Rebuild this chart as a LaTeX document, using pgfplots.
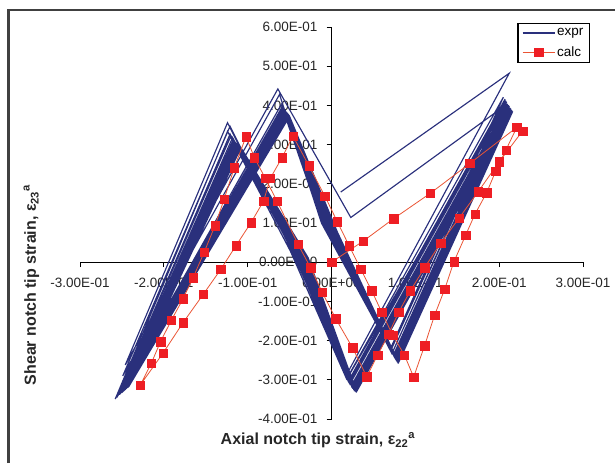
\documentclass[border=0pt]{standalone}
\usepackage{fontspec}
\setmainfont{Liberation Sans}
\usepackage{pgfplots}
\pgfplotsset{compat=1.18}
\definecolor{exprc}{RGB}{42,48,124}
\definecolor{calcl}{RGB}{234,84,52}
\definecolor{calcm}{RGB}{238,30,36}
\tikzset{
  xl/.style={anchor=center, inner sep=0pt, yshift=-21pt, font=\fontsize{13.5}{15}\selectfont, text=black!85},
  yl/.style={anchor=east, inner sep=0pt, xshift=-14pt, font=\fontsize{13.5}{15}\selectfont, text=black!85},
}
\begin{document}
\begin{tikzpicture}[x=1pt,y=1pt]
\useasboundingbox (0,0) rectangle (615,463);
\draw[line width=2.2pt, black!75] (8.5,0) -- (8.5,453) -- (615,453);
\begin{axis}[
  at={(80pt,44pt)}, anchor=south west,
  scale only axis, width=503pt, height=392pt,
  xmin=-0.3, xmax=0.3, ymin=-0.4, ymax=0.6,
  axis lines=middle, axis line style={-, line width=0.9pt},
  xtick={-0.3,-0.2,-0.1,0,0.1,0.2,0.3},
  xticklabels={,,,,,,},
  ytick={-0.4,-0.3,-0.2,-0.1,0,0.1,0.2,0.3,0.4,0.5,0.6},
  yticklabels={,,,,,,,,,,},
  tick align=outside, major tick length=5pt,
  tick style={black, line width=0.9pt},
  xlabel={Axial notch tip strain, ε\textsubscript{22}\textsuperscript{a}},
  ylabel={Shear notch tip strain, ε\textsubscript{23}\textsuperscript{a}},
  label style={font=\bfseries\fontsize{16}{18}\selectfont, text=black!85},
  xlabel style={at={(axis description cs:0.473,-0.0536)}, anchor=center},
  ylabel style={at={(axis description cs:-0.0964,0.342)}, anchor=center, rotate=90},
  clip=false,
  legend style={at={(axis description cs:1.0139,1.0102)}, anchor=north east,
    draw=black, line width=1.3pt, font=\fontsize{13.5}{15}\selectfont,
    inner xsep=4pt, inner ysep=3pt, row sep=5pt, cells={anchor=west}},
  legend image code/.code={\draw[mark repeat=2,mark phase=2,#1] plot coordinates {(0pt,0pt) (16pt,0pt) (32pt,0pt)};},
]
\node[xl] at (axis cs:-0.3,0) {-3.00E-01};
\node[xl] at (axis cs:-0.2,0) {-2.00E-01};
\node[xl] at (axis cs:-0.1,0) {-1.00E-01};
\node[xl] at (axis cs:0,0) {0.00E+00};
\node[xl] at (axis cs:0.1,0) {1.00E-01};
\node[xl] at (axis cs:0.2,0) {2.00E-01};
\node[xl] at (axis cs:0.3,0) {3.00E-01};
\node[yl] at (axis cs:0,-0.4) {-4.00E-01};
\node[yl] at (axis cs:0,-0.3) {-3.00E-01};
\node[yl] at (axis cs:0,-0.2) {-2.00E-01};
\node[yl] at (axis cs:0,-0.1) {-1.00E-01};
\node[yl] at (axis cs:0,0) {0.00E+00};
\node[yl] at (axis cs:0,0.1) {1.00E-01};
\node[yl] at (axis cs:0,0.2) {2.00E-01};
\node[yl] at (axis cs:0,0.3) {3.00E-01};
\node[yl] at (axis cs:0,0.4) {4.00E-01};
\node[yl] at (axis cs:0,0.5) {5.00E-01};
\node[yl] at (axis cs:0,0.6) {6.00E-01};
\addplot[exprc, line width=1.15pt, mark=none] coordinates {
(0.011,0.179) (0.212,0.482) (0.019,-0.283) (-0.050,0.040) (-0.124,0.356) (-0.246,-0.262) (-0.064,0.442)
(0.023,0.114) (0.206,0.398) (0.020,-0.292) (-0.048,0.034) (-0.121,0.347) (-0.249,-0.290) (-0.062,0.428) (-0.012,0.100) (0.070,-0.222)
(0.205,0.421) (0.018,-0.298) (-0.049,0.028) (-0.124,0.334) (-0.258,-0.349) (-0.060,0.402) (-0.010,0.092) (0.071,-0.224)
(0.207,0.416) (0.020,-0.304) (-0.046,0.026) (-0.121,0.327) (-0.256,-0.345) (-0.059,0.396) (-0.008,0.090) (0.073,-0.229)
(0.208,0.412) (0.021,-0.307) (-0.044,0.024) (-0.120,0.322) (-0.255,-0.341) (-0.058,0.393) (-0.006,0.089) (0.072,-0.233)
(0.209,0.409) (0.022,-0.311) (-0.042,0.022) (-0.118,0.318) (-0.253,-0.338) (-0.057,0.390) (-0.005,0.087) (0.074,-0.236)
(0.210,0.404) (0.024,-0.314) (-0.040,0.021) (-0.117,0.313) (-0.252,-0.336) (-0.056,0.388) (-0.003,0.086) (0.075,-0.240)
(0.211,0.401) (0.024,-0.317) (-0.038,0.020) (-0.116,0.310) (-0.250,-0.333) (-0.055,0.386) (-0.002,0.085) (0.075,-0.242)
(0.212,0.399) (0.025,-0.320) (-0.037,0.019) (-0.115,0.306) (-0.249,-0.331) (-0.055,0.384) (0.000,0.084) (0.076,-0.245)
(0.212,0.397) (0.026,-0.322) (-0.035,0.018) (-0.114,0.303) (-0.248,-0.329) (-0.054,0.382) (0.001,0.083) (0.077,-0.247)
(0.213,0.394) (0.027,-0.324) (-0.034,0.017) (-0.113,0.301) (-0.247,-0.327) (-0.053,0.380) (0.002,0.082) (0.077,-0.249)
(0.214,0.392) (0.027,-0.326) (-0.032,0.016) (-0.112,0.299) (-0.246,-0.325) (-0.053,0.378) (0.003,0.081) (0.078,-0.251)
(0.214,0.390) (0.028,-0.327) (-0.031,0.015) (-0.111,0.297) (-0.245,-0.323) (-0.052,0.377) (0.004,0.080) (0.078,-0.252)
(0.215,0.388) (0.029,-0.328) (-0.030,0.014) (-0.110,0.295) (-0.244,-0.321) (-0.051,0.375) (0.005,0.079) (0.079,-0.254)
(0.215,0.387) (0.029,-0.329) (-0.029,0.013) (-0.109,0.294) (-0.243,-0.320) (-0.051,0.374) (0.006,0.078) (0.079,-0.255)
(0.216,0.385) (0.030,-0.330) (-0.028,0.012) (-0.108,0.292) (-0.242,-0.318) (-0.050,0.372) (0.007,0.077) (0.080,-0.256)
(0.216,0.384)
};
\addlegendentry{expr}
\addplot[calcl, line width=0.8pt, mark=square*, mark size=4.2pt, mark options={fill=calcm, draw=calcm, line width=0.3pt}] coordinates {
(0,0) (0.038,0.054) (0.074,0.111) (0.118,0.176) (0.165,0.252) (0.221,0.344)
(0.208,0.286) (0.196,0.233) (0.185,0.177) (0.171,0.122) (0.160,0.069) (0.146,0.001)
(0.135,-0.069) (0.123,-0.135) (0.111,-0.213) (0.098,-0.293)
(0.087,-0.237) (0.073,-0.186) (0.060,-0.128) (0.048,-0.073) (0.035,-0.018) (0.021,0.042)
(0.007,0.103) (-0.008,0.169) (-0.027,0.246) (-0.046,0.322)
(-0.059,0.267) (-0.073,0.214) (-0.081,0.156) (-0.096,0.101) (-0.114,0.042) (-0.132,-0.018)
(-0.153,-0.082) (-0.177,-0.154) (-0.201,-0.232) (-0.228,-0.313)
(-0.215,-0.258) (-0.204,-0.203) (-0.191,-0.148) (-0.177,-0.093) (-0.165,-0.039) (-0.152,0.025)
(-0.139,0.093) (-0.128,0.161) (-0.116,0.241) (-0.102,0.320)
(-0.092,0.267) (-0.079,0.214) (-0.065,0.156) (-0.040,0.046) (-0.025,-0.014) (-0.011,-0.077)
(0.005,-0.144) (0.025,-0.218) (0.042,-0.292)
(0.055,-0.237) (0.068,-0.184) (0.080,-0.128) (0.094,-0.073) (0.111,-0.014) (0.130,0.048)
(0.152,0.112) (0.175,0.180) (0.200,0.256) (0.228,0.335)
};
\addlegendentry{calc}
\end{axis}
\end{tikzpicture}
\end{document}
